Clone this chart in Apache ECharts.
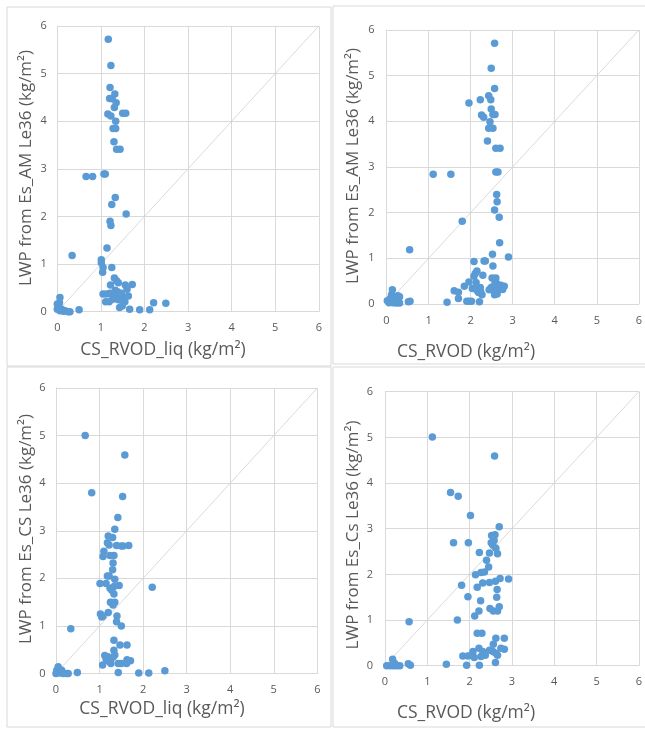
<!DOCTYPE html>
<html>
<head>
<meta charset="utf-8">
<script src="https://cdn.jsdelivr.net/npm/echarts@6/dist/echarts.min.js"></script>
<style>html,body{margin:0;padding:0;background:#fff;}#c{width:645px;height:730px;}</style>
</head>
<body>
<div id="c"></div>
<script>
// Tick labels shared by every axis
const ticks = [0, 1, 2, 3, 4, 5, 6];

// Axis titles
const xTitles = ['CS_RVOD_liq (kg/m²)', 'CS_RVOD (kg/m²)', 'CS_RVOD_liq (kg/m²)', 'CS_RVOD (kg/m²)'];
const yTitles = ['LWP from Es_AM Le36 (kg/m²)', 'LWP from Es_AM Le36 (kg/m²)', 'LWP from Es_CS Le36 (kg/m²)', 'LWP from Es_Cs Le36 (kg/m²)'];

// 1:1 reference line
const oneToOne = [[0, 0], [6, 6]];

// Panel 1: CS_RVOD_liq vs Es_AM Le36
const panel1 = [
[1.17,5.72],[1.23,5.17],[1.21,4.71],[1.32,4.57],[1.20,4.48],[1.26,4.47],[1.35,4.39],[1.31,4.29],[1.16,4.15],[1.23,4.11],[1.50,4.17],[1.57,4.17],[1.34,4.00],[1.28,3.85],[1.34,3.85],[1.30,3.57],[1.36,3.41],[1.44,3.41],
[1.07,2.89],[1.10,2.89],[0.66,2.84],[0.81,2.84],[1.33,2.40],[1.25,2.25],[1.58,2.05],[1.21,1.90],[1.23,1.81],[1.14,1.34],[0.34,1.18],[1.01,1.09],[1.01,1.03],[1.05,0.93],[1.25,0.93],[1.04,0.83],
[1.31,0.71],[1.36,0.65],[1.40,0.61],[1.22,0.56],[1.72,0.57],[1.56,0.56],[1.60,0.47],[1.47,0.39],[1.05,0.37],[1.13,0.37],[1.21,0.39],[1.28,0.33],[1.36,0.32],[1.43,0.37],[1.63,0.33],[1.11,0.21],[1.19,0.21],[1.27,0.26],[1.32,0.28],[1.40,0.25],[1.45,0.28],[1.51,0.30],[1.55,0.21],[1.49,0.12],[1.43,0.09],[1.66,0.05],[1.89,0.04],[2.12,0.04],[2.21,0.19],[2.49,0.18],[0.50,0.04],[1.33,0.45],[1.38,0.42],
[0.06,0.30],[0.05,0.19],[0.00,0.16],[0.02,0.09],[0.10,0.05],[0.18,0.02],[0.25,0.00],[0.29,0.00],[0.00,0.05],[0.06,0.02],[0.14,0.01]
];

// Panel 2: CS_RVOD vs Es_AM Le36
const panel2 = [
[2.57,5.71],[2.49,5.16],[2.57,4.72],[1.96,4.40],[2.23,4.47],[2.43,4.56],[2.48,4.47],[2.49,4.27],[2.26,4.14],[2.31,4.09],[2.53,4.15],[2.58,4.15],[2.46,3.99],[2.43,3.85],[2.53,3.85],[2.40,3.57],[2.60,3.41],[2.70,3.41],[2.60,2.89],[2.65,2.89],[1.11,2.84],[1.53,2.84],[2.62,2.40],[2.63,2.24],[2.57,2.06],[2.68,1.90],[1.80,1.81],[2.69,1.34],[0.55,1.19],[2.52,1.09],[2.90,1.03],
[2.08,0.93],[2.32,0.94],[2.35,0.94],[2.53,0.83],[2.15,0.72],[2.11,0.67],[2.08,0.61],[2.29,0.63],[2.51,0.57],[2.60,0.57],[1.96,0.48],[2.13,0.47],[1.85,0.39],[2.11,0.34],[2.04,0.34],[2.23,0.36],[2.49,0.36],[2.55,0.39],[2.58,0.46],[2.63,0.36],[2.68,0.36],[2.72,0.33],[2.44,0.31],[2.54,0.32],[2.62,0.45],[2.24,0.27],[2.27,0.20],[2.16,0.29],[2.19,0.25],[1.61,0.29],[1.71,0.26],[1.71,0.12],[2.57,0.20],[2.63,0.22],[2.76,0.32],[2.80,0.39],[2.72,0.41],[1.44,0.04],[1.91,0.06],[1.96,0.06],[2.02,0.06],[2.21,0.05],[0.52,0.05],[0.56,0.06],
[0.14,0.31],[0.12,0.20],[0.27,0.18],[0.31,0.16],[0.02,0.07],[0.06,0.03],[0.15,0.03],[0.23,0.02],[0.31,0.02],[0.20,0.12],[0.09,0.12]
];

// Panel 3: CS_RVOD_liq vs Es_CS Le36
const panel3 = [
[0.67,5.00],[1.58,4.59],[0.82,3.80],[1.53,3.72],[1.42,3.28],[1.35,3.03],[1.20,2.89],[1.30,2.86],[1.18,2.75],[1.22,2.70],[1.39,2.69],[1.50,2.68],[1.54,2.68],[1.67,2.69],[1.10,2.57],[1.08,2.46],[1.24,2.48],[1.33,2.48],[1.31,2.32],[1.30,2.18],[1.18,2.05],[1.22,2.05],[1.35,1.98],[1.01,1.89],[1.15,1.89],[1.45,1.85],[1.33,1.83],[1.24,1.79],[1.28,1.75],[1.33,1.67],[2.21,1.81],[1.27,1.49],[1.31,1.44],[1.25,1.50],[1.35,1.50],[1.20,1.28],[1.02,1.25],[1.05,1.19],[1.08,1.21],[1.40,1.21],[1.39,1.09],[1.50,1.00],[0.34,0.94],[1.33,0.70],[1.47,0.60],[1.63,0.60],[1.33,0.49],
[1.12,0.38],[1.19,0.35],[1.17,0.28],[1.22,0.25],[1.26,0.21],[1.15,0.31],[1.31,0.34],[1.35,0.39],[1.07,0.18],[1.43,0.21],[1.50,0.21],[1.63,0.29],[1.71,0.27],[1.62,0.21],[1.43,0.02],[1.90,0.01],[2.13,0.01],[2.50,0.06],[0.49,0.02],
[0.05,0.14],[0.02,0.07],[0.00,0.00],[0.09,0.01],[0.17,0.00],[0.24,0.00],[0.28,0.00],[0.13,0.07]
];

// Panel 4: CS_RVOD vs Es_Cs Le36
const panel4 = [
[1.12,5.01],[2.59,4.59],[1.55,3.79],[1.73,3.71],[2.02,3.29],[2.70,3.04],[2.52,2.85],[2.60,2.87],[1.62,2.69],[1.97,2.69],[2.51,2.69],[2.58,2.74],[2.55,2.64],[2.62,2.57],[2.66,2.45],[2.47,2.47],[2.23,2.48],[2.40,2.31],[2.45,2.16],[2.27,2.04],[2.35,2.05],[2.14,1.99],[1.81,1.76],[2.18,1.72],[2.31,1.81],[2.47,1.82],[2.61,1.85],[2.72,1.91],[2.92,1.90],[2.65,1.67],[1.96,1.51],[2.26,1.42],[2.64,1.50],[2.22,1.20],[2.12,1.09],[2.48,1.25],[2.56,1.20],[2.66,1.20],[2.70,1.29],[1.71,1.00],[0.57,0.96],[2.18,0.71],[2.29,0.71],[2.62,0.60],[2.82,0.60],[2.56,0.47],[2.22,0.38],[2.08,0.31],[2.04,0.23],[2.31,0.31],[2.37,0.23],[2.27,0.20],[1.84,0.21],[1.96,0.21],[2.47,0.34],[2.55,0.31],[2.62,0.27],[2.66,0.23],[2.74,0.38],[2.82,0.36],[2.11,0.18],[1.45,0.03],[1.93,0.01],[2.23,0.01],[2.61,0.07],
[0.18,0.14],[0.04,0.00],[0.12,0.00],[0.20,0.00],[0.27,0.00],[0.35,0.00],[0.55,0.04],[0.60,0.01],[0.23,0.05]
];

const panels = [panel1, panel2, panel3, panel4];

// layout (pixels)
const grids = [
  {left: 57.3, top: 26, width: 261.5, height: 285.7},
  {left: 386.5, top: 30, width: 255, height: 274},
  {left: 56, top: 388, width: 261.3, height: 285.5},
  {left: 385, top: 391.7, width: 255.6, height: 274}
];
const xTitlePos = [[163, 350], [466, 352], [162, 709], [466, 713]];
const yTitlePos = [[26, 168], [353, 166], [26, 529], [353, 535]];
const frames = [
  {x: 7, y: 7, width: 324, height: 359},
  {x: 333, y: 6, width: 320, height: 358},
  {x: 7, y: 367, width: 324, height: 360},
  {x: 333, y: 367, width: 320, height: 360}
];

const FONT = '"Open Sans", "Noto Sans", sans-serif';
const grey = '#595959';
const gridCol = '#d9d9d9';

function axis(i, isY) {
  return {
    type: 'value', gridIndex: i, min: ticks[0], max: ticks[ticks.length - 1], interval: 1,
    axisLine: {show: true, onZero: false, lineStyle: {color: gridCol, width: 1}},
    axisTick: {show: false},
    splitLine: {show: true, lineStyle: {color: gridCol, width: 1}},
    axisLabel: {color: grey, fontSize: 11, fontFamily: FONT, margin: isY ? (i % 2 ? 12 : 10.5) : 11,
      formatter: v => ticks.includes(v) ? String(v) : ''}
  };
}

const series = [];
panels.forEach((pts, i) => {
  series.push({type: 'line', xAxisIndex: i, yAxisIndex: i, data: oneToOne, symbol: 'none', silent: true,
    lineStyle: {color: '#d0d0d0', width: 0.8}, z: 1});
  series.push({type: 'scatter', xAxisIndex: i, yAxisIndex: i, data: pts, symbol: 'circle', symbolSize: 7.5,
    itemStyle: {color: '#5B9BD5', opacity: 1}, z: 3});
});

const graphic = [];
frames.forEach(f => graphic.push({type: 'rect', shape: f, silent: true, z: 0,
  style: {fill: 'none', stroke: gridCol, lineWidth: 1}}));
xTitles.forEach((t, i) => graphic.push({type: 'text', x: xTitlePos[i][0], y: xTitlePos[i][1], silent: true,
  style: {text: t, fill: grey, font: '17.5px ' + FONT, align: 'center', verticalAlign: 'middle', textAlign: 'center', textVerticalAlign: 'middle'}}));
yTitles.forEach((t, i) => graphic.push({type: 'text', x: yTitlePos[i][0], y: yTitlePos[i][1], rotation: Math.PI / 2, silent: true,
  style: {text: t, fill: grey, font: '17px ' + FONT, align: 'center', verticalAlign: 'middle', textAlign: 'center', textVerticalAlign: 'middle'}}));

const chart = echarts.init(document.getElementById('c'), null, {renderer: 'canvas'});
chart.setOption({
  backgroundColor: '#fff',
  animation: false,
  grid: grids,
  xAxis: grids.map((g, i) => axis(i, false)),
  yAxis: grids.map((g, i) => axis(i, true)),
  series: series,
  graphic: graphic
});
</script>
</body>
</html>
